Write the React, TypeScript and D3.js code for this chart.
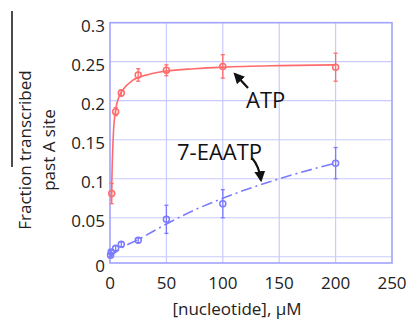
import React from 'react';
import * as d3 from 'd3';

// nucleotide concentration (uM) and fraction transcribed past A site
const atpX = [1.5, 5, 10, 25, 50, 100, 200];
const atpY = [0.081, 0.186, 0.21, 0.233, 0.239, 0.244, 0.243];
const atpErr = [0.013, 0.005, 0.004, 0.008, 0.007, 0.015, 0.018];
// fitted curve
const atpFitX = [1.2, 2, 3, 5, 8, 12, 20, 35, 50, 75, 100, 150, 200];
const atpFitY = [0.07, 0.12, 0.158, 0.188, 0.205, 0.215, 0.226, 0.234, 0.238, 0.241, 0.243, 0.245, 0.246];

const eaX = [0.5, 1, 5, 10, 25, 50, 100, 200];
const eaY = [0.002, 0.006, 0.011, 0.016, 0.021, 0.048, 0.068, 0.12];
const eaErr = [0.002, 0.002, 0.003, 0.003, 0.003, 0.018, 0.018, 0.02];
const eaFitX = [0, 10, 25, 50, 75, 100, 150, 200];
const eaFitY = [0.0, 0.011, 0.022, 0.042, 0.06, 0.075, 0.1, 0.12];

const xTicks = [0, 50, 100, 150, 200, 250];
const yTicks = [0, 0.05, 0.1, 0.15, 0.2, 0.25, 0.3];

const FONT = '"Open Sans", sans-serif';

export default function App() {
  const x = d3.scaleLinear().domain([0, 250]).range([110, 392]);
  const y = d3.scaleLinear().domain([-0.008, 0.3]).range([263, 22.7]);

  const line = d3
    .line<[number, number]>()
    .x((d) => x(d[0]))
    .y((d) => y(d[1]))
    .curve(d3.curveMonotoneX);

  const red = '#ff6b6b';
  const blue = '#7b7bff';
  const grid = '#c9cbff';
  const box = '#a3a3ff';

  const points = (xs: number[], ys: number[], errs: number[], color: string, key: string) =>
    xs.map((xv, i) => {
      const cx = x(xv);
      const cy = y(ys[i]);
      const top = y(ys[i] + errs[i]);
      const bot = y(ys[i] - errs[i]);
      return (
        <g key={key + i} stroke={color} strokeWidth={1.3}>
          <line x1={cx} x2={cx} y1={top} y2={bot} />
          <line x1={cx - 2} x2={cx + 2} y1={top} y2={top} />
          <line x1={cx - 2} x2={cx + 2} y1={bot} y2={bot} />
          <circle cx={cx} cy={cy} r={3} fill="none" strokeWidth={1.5} />
        </g>
      );
    });

  return (
    <svg width={407} height={320} style={{ position: 'absolute', left: 0, top: 0 }}>
      <rect width={407} height={320} fill="#fff" />
      <defs>
        <marker id="ah" viewBox="0 0 10 10" refX="8" refY="5" markerWidth="5" markerHeight="5" orient="auto-start-reverse">
          <path d="M0,0 L10,5 L0,10 z" fill="#111" />
        </marker>
      </defs>

      {/* grid */}
      {xTicks.slice(1, -1).map((t) => (
        <line key={'gx' + t} x1={x(t)} x2={x(t)} y1={y(0.3)} y2={y(-0.008)} stroke={grid} strokeWidth={1.2} />
      ))}
      {yTicks.slice(0, -1).map((t) => (
        <line key={'gy' + t} x1={x(0)} x2={x(250)} y1={y(t)} y2={y(t)} stroke={grid} strokeWidth={1.2} />
      ))}
      <rect x={x(0)} y={y(0.3)} width={x(250) - x(0)} height={y(-0.008) - y(0.3)} fill="none" stroke={box} strokeWidth={1.6} />

      {/* fits */}
      <path d={line(atpFitX.map((v, i) => [v, atpFitY[i]]) as any) || ''} fill="none" stroke={red} strokeWidth={1.6} />
      <path
        d={line(eaFitX.map((v, i) => [v, eaFitY[i]]) as any) || ''}
        fill="none"
        stroke={blue}
        strokeWidth={1.6}
        strokeDasharray="11 4 2 4"
      />

      {points(atpX, atpY, atpErr, red, 'a')}
      {points(eaX, eaY, eaErr, blue, 'e')}

      {/* tick labels */}
      <g fontFamily={FONT} fontSize={17} fill="#222">
        {yTicks.map((t) => (
          <text key={'ty' + t} x={105} y={t === 0 ? y(-0.008) + 2 : y(t) + 3} textAnchor="end" dominantBaseline="central">
            {t === 0 ? '0' : String(t)}
          </text>
        ))}
        {xTicks.map((t) => (
          <text key={'tx' + t} x={x(t)} y={282} textAnchor="middle" dominantBaseline="central">
            {t}
          </text>
        ))}
        <text x={237} y={308} textAnchor="middle" dominantBaseline="central">
          [nucleotide], μM
        </text>
        <text transform="translate(24,150) rotate(-90)" textAnchor="middle" dominantBaseline="central">
          Fraction transcribed
        </text>
        <text transform="translate(48,150) rotate(-90)" textAnchor="middle" dominantBaseline="central">
          past A site
        </text>
      </g>

      <line x1={12} x2={12} y1={11} y2={167} stroke="#111" strokeWidth={1.5} />

      {/* annotations */}
      <g fontFamily={FONT} fontSize={22} fill="#111">
        <text x={246} y={99} dominantBaseline="central">ATP</text>
        <text x={177} y={151} dominantBaseline="central">7-EAATP</text>
      </g>
      <line x1={248} y1={88} x2={235} y2={74} stroke="#111" strokeWidth={2.2} markerEnd="url(#ah)" />
      <path d="M252,158 Q259,166 261,180" fill="none" stroke="#111" strokeWidth={2.2} markerEnd="url(#ah)" />
    </svg>
  );
}
